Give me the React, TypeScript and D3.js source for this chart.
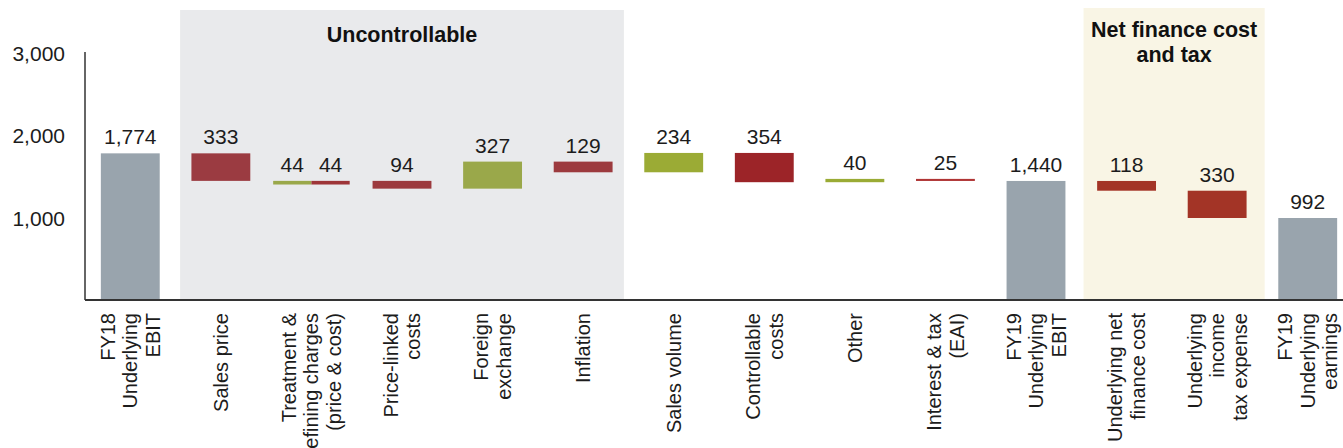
import React, { useEffect } from "react";
import * as d3 from "d3";

// category labels, one entry per line of the rotated label
const categories: string[][] = [
  ["FY18", "Underlying", "EBIT"],
  ["Sales price"],
  ["Treatment &", "refining charges", "(price & cost)"],
  ["Price-linked", "costs"],
  ["Foreign", "exchange"],
  ["Inflation"],
  ["Sales volume"],
  ["Controllable", "costs"],
  ["Other"],
  ["Interest & tax", "(EAI)"],
  ["FY19", "Underlying", "EBIT"],
  ["Underlying net", "finance cost"],
  ["Underlying", "income", "tax expense"],
  ["FY19", "Underlying", "earnings"],
];

// values per category (treatment & refining charges is split into price / cost)
const changes: number[][] = [
  [1774],
  [-333],
  [44, -44],
  [-94],
  [327],
  [-129],
  [234],
  [-354],
  [40],
  [-25],
  [1440],
  [-118],
  [-330],
  [992],
];

const isTotal = [true, false, false, false, false, false, false, false, false, false, true, false, false, true];

const yTicks = [1000, 2000, 3000];

const barColors: string[][] = [
  ["#99a4ad"],
  ["#9b3b41"],
  ["#9aa84a", "#9e3538"],
  ["#9c3a3e"],
  ["#9aa84a"],
  ["#9c3a3e"],
  ["#9bab35"],
  ["#9c2428"],
  ["#9aab35"],
  ["#b03535"],
  ["#99a4ad"],
  ["#a33426"],
  ["#a33426"],
  ["#99a4ad"],
];

const W = 1343;
const H = 448;
const FONT = "'Liberation Sans', Arial, sans-serif";

export default function App() {
  useEffect(() => {
    document.body.style.margin = "0";
  }, []);

  const x = d3
    .scaleBand<number>()
    .domain(d3.range(categories.length))
    .range([85, 1353])
    .paddingInner(0.35)
    .paddingOuter(0.175);
  const y = d3.scaleLinear().domain([0, 3000]).range([300, 52]);
  const step = x.step();
  const bw = x.bandwidth();
  const fmt = d3.format(",");

  // waterfall layout
  type Bar = { x0: number; w: number; lo: number; hi: number; v: number; color: string };
  const bars: Bar[] = [];
  let level = 0;
  changes.forEach((parts, i) => {
    const cx = x(i)! + bw / 2;
    if (isTotal[i]) {
      bars.push({ x0: x(i)!, w: bw, lo: 0, hi: parts[0], v: parts[0], color: barColors[i][0] });
      level = parts[0];
      return;
    }
    if (parts.length === 1) {
      const d = parts[0];
      bars.push({
        x0: x(i)!,
        w: bw,
        lo: Math.min(level, level + d),
        hi: Math.max(level, level + d),
        v: d,
        color: barColors[i][0],
      });
      level += d;
      return;
    }
    // split bar: parts side by side, sharing the same span
    const totalW = bw * 1.3;
    const pw = totalW / parts.length;
    const low = level + d3.sum(parts.filter((p) => p < 0));
    parts.forEach((p, j) => {
      const lo = p < 0 ? level + p : low;
      bars.push({ x0: cx - totalW / 2 + j * pw, w: pw, lo, hi: lo + Math.abs(p), v: p, color: barColors[i][j] });
    });
    level += d3.sum(parts);
  });

  const region1 = { x0: x(1)! - step * 0.125, x1: x(5)! + bw + step * 0.125 };
  const region2 = { x0: x(11)! - step * 0.15, x1: x(12)! + bw + step * 0.2 };

  return (
    <svg width={W} height={H} style={{ display: "block", fontFamily: FONT }}>
      <rect x={0} y={0} width={W} height={H} fill="#ffffff" />
      {/* shaded groups */}
      <rect x={region1.x0} y={10} width={region1.x1 - region1.x0} height={y(0) - 10} fill="#e9eaec" />
      <rect x={region2.x0} y={8} width={region2.x1 - region2.x0} height={y(0) - 8} fill="#f9f5e5" />
      <text
        x={(region1.x0 + region1.x1) / 2}
        y={42}
        textAnchor="middle"
        fontSize={21.5}
        fontWeight="bold"
        fill="#111"
      >
        Uncontrollable
      </text>
      <text x={(region2.x0 + region2.x1) / 2} textAnchor="middle" fontSize={21.5} fontWeight="bold" fill="#111">
        <tspan x={(region2.x0 + region2.x1) / 2} y={37}>
          Net finance cost
        </tspan>
        <tspan x={(region2.x0 + region2.x1) / 2} y={62}>
          and tax
        </tspan>
      </text>

      {/* bars */}
      {bars.map((b, k) => (
        <g key={k}>
          <rect x={b.x0} y={y(b.hi)} width={b.w} height={Math.max(1, y(b.lo) - y(b.hi))} fill={b.color} />
          <text
            x={b.x0 + b.w / 2}
            y={y(b.hi) - 9}
            textAnchor="middle"
            fontSize={21}
            fill="#1c1c1c"
          >
            {fmt(Math.abs(b.v))}
          </text>
        </g>
      ))}

      {/* axes */}
      <line x1={85} x2={85} y1={y(3000)} y2={y(0)} stroke="#333" strokeWidth={1.5} />
      <line x1={85} x2={W} y1={y(0)} y2={y(0)} stroke="#333" strokeWidth={1.8} />
      {yTicks.map((t) => (
        <text key={t} x={65} y={y(t) + 1} textAnchor="end" dominantBaseline="central" fontSize={21} fill="#1c1c1c">
          {fmt(t)}
        </text>
      ))}

      {/* category labels */}
      {categories.map((lines, i) => {
        const cx = x(i)! + bw / 2;
        return lines.map((line, j) => {
          const lx = cx + (j - (lines.length - 1) / 2) * 22.5;
          return (
            <text
              key={`${i}-${j}`}
              transform={`translate(${lx},313) rotate(-90)`}
              textAnchor="end"
              dominantBaseline="central"
              fontSize={20}
              fill="#1c1c1c"
            >
              {line}
            </text>
          );
        });
      })}
    </svg>
  );
}
